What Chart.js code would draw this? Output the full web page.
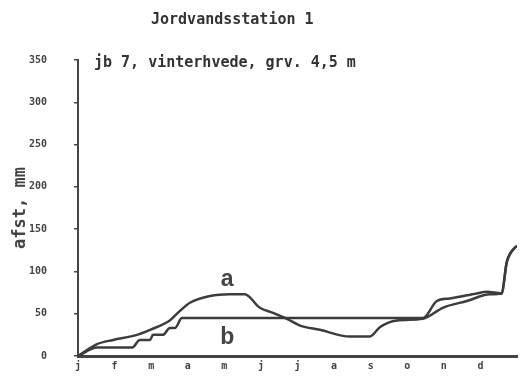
<!DOCTYPE html>
<html>
<head>
<meta charset="utf-8">
<script src="https://cdn.jsdelivr.net/npm/chart.js@4.4.1/dist/chart.umd.min.js"></script>
<style>
  html, body { margin: 0; padding: 0; background: #ffffff; }
  #wrap { width: 520px; height: 389px; position: relative; }
</style>
</head>
<body>
<div id="wrap"><canvas id="c" width="520" height="389"></canvas></div>
<script>
// Month initials along the x axis (one per month start)
const monthLabels = ['j', 'f', 'm', 'a', 'm', 'j', 'j', 'a', 's', 'o', 'n', 'd'];

// Curve a: time in months from 1 January, value in mm
const monthsA = [0, 0.52, 0.96, 1.61, 1.97, 2.51, 2.73, 3.06, 3.61, 4.15, 4.56, 4.97, 5.33, 5.71, 6.07, 6.61, 7.43, 7.98, 8.25, 8.72, 9.43, 9.97, 10.63, 11.26, 11.58, 11.72, 11.8, 11.94, 12.0];
const valuesA = [0, 14, 19, 25, 31, 42, 51, 63, 71, 73, 73, 57, 51, 44, 36, 31, 23, 23, 34, 42, 44, 57, 65, 73, 74, 111, 120, 128, 130];

// Curve b: time in months from 1 January, value in mm
const monthsB = [0, 0.52, 1.48, 1.69, 1.97, 2.05, 2.32, 2.51, 2.65, 2.84, 9.43, 9.81, 10.16, 10.9, 11.17, 11.58, 11.72, 11.8, 11.94, 12.0];
const valuesB = [0, 10, 10, 19, 19, 25, 25, 33, 33, 45, 45, 65, 68, 74, 76, 74, 111, 120, 128, 130];

// Y axis ticks
const yTicks = [0, 50, 100, 150, 200, 250, 300, 350];

const titleText = 'Jordvandsstation 1';
const subtitleText = 'jb 7, vinterhvede, grv. 4,5 m';
const yTitle = 'afst, mm';

// Curve name labels: [text, month, value]
const curveNames = [['a', 4.08, 90], ['b', 4.08, 22]];

const ink = '#3c3c3c';
const mono = '"DejaVu Sans Mono", "Liberation Mono", monospace';

const toPoints = (xs, ys) => xs.map((x, i) => ({ x: x, y: ys[i] }));

const textPlugin = {
  id: 'textPlugin',
  afterDraw(chart) {
    const ctx = chart.ctx;
    const area = chart.chartArea;
    const xs = chart.scales.x, ys = chart.scales.y;
    ctx.save();
    ctx.fillStyle = '#333';
    ctx.textBaseline = 'middle';
    ctx.textAlign = 'left';
    ctx.font = 'bold 15px ' + mono;
    ctx.fillText(titleText, 151, 20);
    ctx.fillText(subtitleText, area.left + 16, area.top + 3);
    // curve names
    ctx.fillStyle = '#444';
    ctx.textAlign = 'center';
    ctx.font = 'bold 23px "Liberation Sans", Arial, sans-serif';
    curveNames.forEach(([t, m, v]) => {
      ctx.fillText(t, xs.getPixelForValue(m), ys.getPixelForValue(v));
    });
    ctx.restore();
  }
};

new Chart(document.getElementById('c'), {
  type: 'line',
  data: {
    datasets: [
      {
        label: 'a',
        data: toPoints(monthsA, valuesA),
        borderColor: ink,
        borderWidth: 2.5,
        pointRadius: 0,
        fill: false,
        cubicInterpolationMode: 'monotone'
      },
      {
        label: 'b',
        data: toPoints(monthsB, valuesB),
        borderColor: ink,
        borderWidth: 2.5,
        pointRadius: 0,
        fill: false,
        cubicInterpolationMode: 'monotone'
      }
    ]
  },
  options: {
    responsive: false,
    animation: false,
    layout: { padding: { top: 60, right: 3, left: 0, bottom: 0 } },
    plugins: {
      legend: { display: false },
      title: { display: false },
      tooltip: { enabled: false }
    },
    scales: {
      x: {
        type: 'linear',
        min: 0,
        max: 12,
        afterFit(s) { s.height = 22; },
        afterBuildTicks(s) {
          s.ticks = monthLabels.map((_, i) => ({ value: i }));
        },
        ticks: {
          autoSkip: false,
          maxRotation: 0,
          padding: 4,
          color: '#444',
          font: { family: mono, size: 10, weight: 'bold' },
          callback: (v) => monthLabels[v] || ''
        },
        grid: { display: false, drawTicks: false },
        border: { display: true, color: '#444', width: 3 }
      },
      y: {
        min: 0,
        max: 350,
        afterFit(s) { s.width = 78; },
        afterBuildTicks(s) {
          s.ticks = yTicks.map(v => ({ value: v }));
        },
        ticks: {
          padding: 27,
          color: '#444',
          font: { family: mono, size: 10, weight: 'bold' }
        },
        grid: { drawOnChartArea: false, drawTicks: true, tickLength: 4, color: '#444', lineWidth: 1.5 },
        border: { display: true, color: '#444', width: 2 },
        title: {
          display: true,
          text: yTitle,
          color: '#444',
          padding: { top: 10, bottom: 0 },
          font: { family: mono, size: 17, weight: 'bold' }
        }
      }
    }
  },
  plugins: [textPlugin]
});
</script>
</body>
</html>
